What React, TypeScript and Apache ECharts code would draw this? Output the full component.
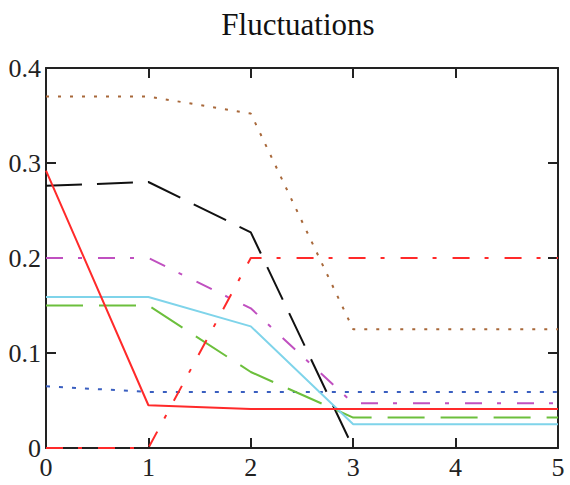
import React, { useEffect, useRef } from "react";
import * as echarts from "echarts";

const xValues = [0, 1, 2, 3, 4, 5];
const xTicks = ["0", "1", "2", "3", "4", "5"];
const yTicks = ["0", "0.1", "0.2", "0.3", "0.4"];

const brownDotted = [0.37, 0.37, 0.352, 0.125, 0.125, 0.125];
const blackDashed = [0.276, 0.28, 0.227, 0.0];
const redSolid = [0.292, 0.045, 0.041, 0.041, 0.041, 0.041];
const redDashDot = [0.0, 0.0, 0.2, 0.2, 0.2, 0.2];
const magentaDashDot = [0.2, 0.2, 0.147, 0.047, 0.047, 0.047];
const cyanSolid = [0.159, 0.159, 0.128, 0.025, 0.025, 0.025];
const greenDashed = [0.15, 0.15, 0.08, 0.032, 0.032, 0.032];
const blueDotted = [0.065, 0.059, 0.059, 0.059, 0.059, 0.059];

const FONT = "'Liberation Serif', 'Times New Roman', serif";

function pairs(vals: number[]) {
  return vals.map((v, i) => [xValues[i], v]);
}

export default function App() {
  const ref = useRef<HTMLDivElement>(null);
  useEffect(() => {
    if (!ref.current) return;
    const chart = echarts.init(ref.current, undefined, { renderer: "svg" });
    const line = (name: string, data: number[], color: string, type: any, z = 2, width = 2) => ({
      name,
      type: "line",
      data: pairs(data),
      showSymbol: false,
      symbol: "none",
      z,
      lineStyle: { color, width, type },
    });
    const axisCommon = {
      type: "value",
      axisLine: { show: true, onZero: false, lineStyle: { color: "#222", width: 2 } },
      splitLine: { show: false },
      axisTick: { show: true, inside: true, length: 10, lineStyle: { color: "#222", width: 2 } },
    };
    chart.setOption({
      animation: false,
      backgroundColor: "#fff",
      graphic: [
        {
          type: "text",
          x: 298,
          y: 24,
          style: {
            text: "Fluctuations",
            fontFamily: FONT,
            fontSize: 31,
            fill: "#111",
            textAlign: "center",
            textVerticalAlign: "middle",
          },
        },
      ],
      grid: { left: 46, right: 12, top: 68, bottom: 37, containLabel: false },
      xAxis: [
        {
          ...axisCommon,
          position: "bottom",
          min: 0,
          max: 5,
          interval: 1,
          axisLabel: {
            show: true,
            fontFamily: FONT,
            fontSize: 26,
            color: "#222",
            margin: 6,
            formatter: (v: number) => xTicks[Math.round(v)] ?? "",
          },
        },
        {
          ...axisCommon,
          position: "top",
          min: 0,
          max: 5,
          interval: 1,
          axisLabel: { show: false },
        },
      ],
      yAxis: [
        {
          ...axisCommon,
          position: "left",
          min: 0,
          max: 0.4,
          interval: 0.1,
          axisLabel: {
            show: true,
            fontFamily: FONT,
            fontSize: 26,
            color: "#222",
            margin: 5,
            formatter: (v: number) => yTicks[Math.round(v * 10)] ?? "",
          },
        },
        {
          ...axisCommon,
          position: "right",
          min: 0,
          max: 0.4,
          interval: 0.1,
          axisLabel: { show: false },
        },
      ],
      series: [
        line("brown", brownDotted, "#a8683a", [3, 9]),
        line("black", blackDashed, "#111", [36, 15]),
        line("blue", blueDotted, "#3a5fc0", [4, 9]),
        line("magenta", magentaDashDot, "#c050c0", [17, 15, 4, 16]),
        line("green", greenDashed, "#6cbf3c", [37, 16]),
        line("cyan", cyanSolid, "#7fd4ea", "solid"),
        line("redDashDot", redDashDot, "#ff2a2a", [17, 15, 4, 16]),
        line("red", redSolid, "#ff2a2a", "solid", 3),
      ],
    });
    return () => chart.dispose();
  }, []);
  return (
    <div
      ref={ref}
      style={{ position: "fixed", left: 0, top: 0, width: 570, height: 485, background: "#fff" }}
    />
  );
}
